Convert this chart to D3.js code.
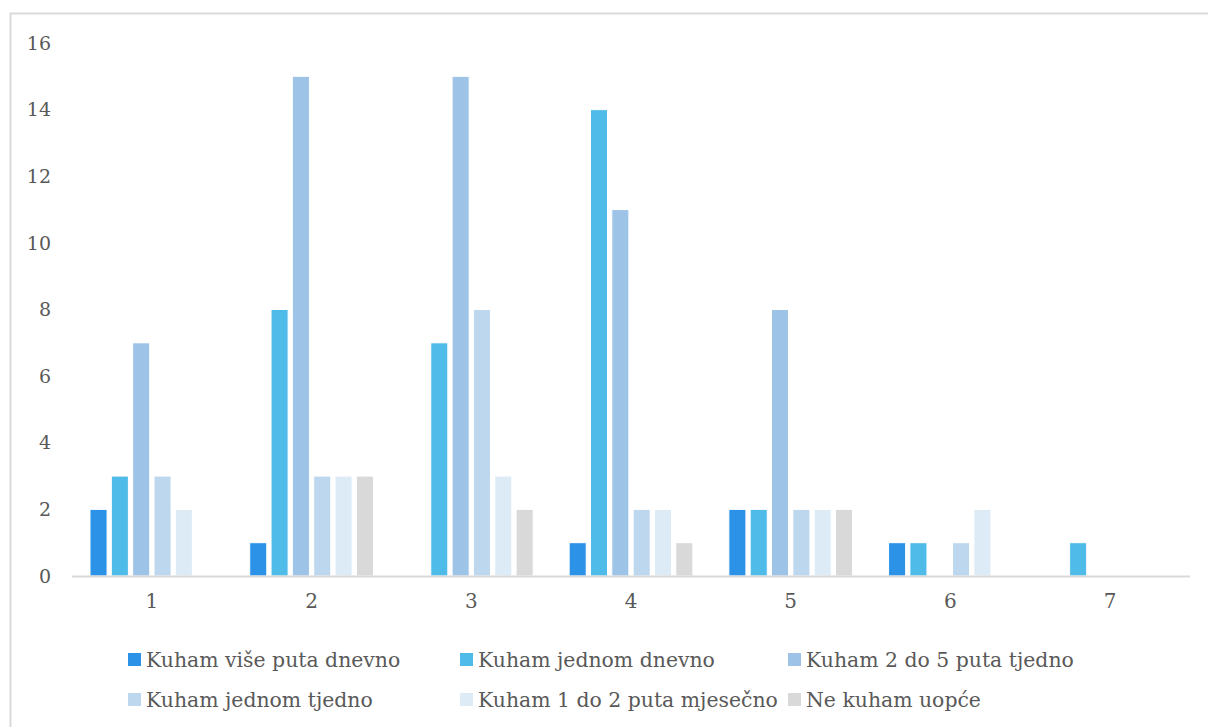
<!DOCTYPE html>
<html><head><meta charset="utf-8">
<script src="https://cdn.jsdelivr.net/npm/d3@7"></script>
<style>body{margin:0;background:#fff;}svg{display:block;font-family:"DejaVu Serif","Liberation Serif",serif;}</style>
</head><body><svg id="c" width="1208" height="727"></svg>
<script>
const categories = ["1","2","3","4","5","6","7"];
const seriesNames = ["Kuham više puta dnevno","Kuham jednom dnevno","Kuham 2 do 5 puta tjedno","Kuham jednom tjedno","Kuham 1 do 2 puta mjesečno","Ne kuham uopće"];
const seriesColors = ["#2B92E8","#4FBBE8","#9DC3E6","#BDD7EE","#DDEBF7","#D9D9D9"];
const s1 = [2,1,0,1,2,1,0];
const s2 = [3,8,7,14,2,1,1];
const s3 = [7,15,15,11,8,0,0];
const s4 = [3,3,8,2,2,1,0];
const s5 = [2,3,3,2,2,2,0];
const s6 = [0,3,2,1,2,0,0];
const seriesValues = [s1,s2,s3,s4,s5,s6];
const yTicks = [0,2,4,6,8,10,12,14,16];

const svg = d3.select("#c");
const textColor = "#595959";
// outer border
svg.append("rect").attr("x",10.5).attr("y",13.5).attr("width",1220).attr("height",740)
  .attr("fill","none").attr("stroke","#d9d9d9").attr("stroke-width",2);

const x0 = d3.scaleBand().domain(categories).range([72,1190]).paddingInner(0).paddingOuter(0);
const x1 = d3.scaleBand().domain(d3.range(6)).range([18, x0.bandwidth()-18]).paddingInner(0.2).paddingOuter(0);
const y = d3.scaleLinear().domain([0,16]).range([576,43]);

// y tick labels
svg.append("g").selectAll("text").data(yTicks).join("text")
  .attr("x",51).attr("y",d=>y(d)).attr("dy","0.35em").attr("text-anchor","end")
  .attr("fill",textColor).attr("font-size",19).text(d=>d);

// bars
const g = svg.append("g");
categories.forEach((c,ci)=>{
  seriesValues.forEach((vals,si)=>{
    const v = vals[ci];
    if(v<=0) return;
    g.append("rect").attr("x",x0(c)+x1(si)).attr("width",x1.bandwidth())
      .attr("y",y(v)).attr("height",y(0)-y(v))
      .attr("fill",seriesColors[si]).attr("stroke","#fff").attr("stroke-width",1);
  });
});

// x axis line
svg.append("line").attr("x1",72).attr("x2",1190).attr("y1",576.5).attr("y2",576.5)
  .attr("stroke","#d9d9d9").attr("stroke-width",2);
// x labels
svg.append("g").selectAll("text").data(categories).join("text")
  .attr("x",d=>x0(d)+x0.bandwidth()/2).attr("y",608).attr("text-anchor","middle")
  .attr("fill",textColor).attr("font-size",20).text(d=>d);

// legend
const legX = [128,460,788];
const legY = [660,700];
seriesNames.forEach((n,i)=>{
  const lx = legX[i%3], ly = legY[Math.floor(i/3)];
  svg.append("rect").attr("x",lx).attr("y",ly-7).attr("width",13).attr("height",13).attr("fill",seriesColors[i]);
  svg.append("text").attr("x",lx+18).attr("y",ly).attr("dy","0.35em").attr("fill",textColor)
    .attr("font-size",20.4).text(n);
});
</script></body></html>
